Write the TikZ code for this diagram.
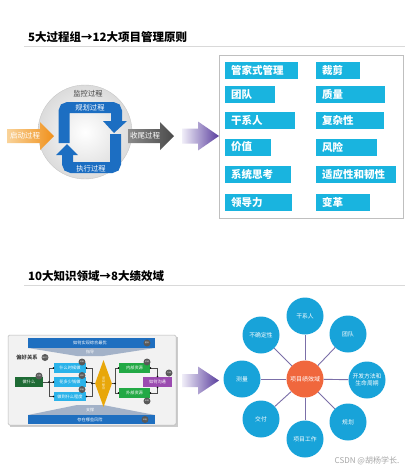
\documentclass[tikz,border=0pt]{standalone}
\usepackage{fontspec}
\setmainfont{Noto Sans CJK SC}
\usetikzlibrary{shapes.geometric,shadows}
\definecolor{cbox}{HTML}{19B4DF}
\definecolor{loopblue}{HTML}{1C6EC2}
\definecolor{orgL}{HTML}{F9D39A}
\definecolor{orgR}{HTML}{F0901A}
\definecolor{grayL}{HTML}{8A8A8A}
\definecolor{grayR}{HTML}{4A4A4A}
\definecolor{purL}{HTML}{F0EEF8}
\definecolor{purR}{HTML}{5A3E9E}
\definecolor{cblue}{HTML}{18A3D9}
\definecolor{corange}{HTML}{F0673D}
\definecolor{spoke}{HTML}{7B6FA8}
\definecolor{barblue}{HTML}{1F6FC0}
\definecolor{trap}{HTML}{A3B2C8}
\definecolor{dgreen}{HTML}{1E6B35}
\definecolor{lcyan}{HTML}{2AB3EA}
\definecolor{mgreen}{HTML}{22A945}
\definecolor{mpurple}{HTML}{9B4BB0}
\definecolor{gold}{HTML}{E8A70A}
\begin{document}
\begin{tikzpicture}[x=1pt,y=-1pt,
  title/.style={anchor=west,font=\fontsize{11.5}{12}\selectfont\bfseries,text=black,inner sep=0},
  rbox/.style={fill=cbox,text=white,anchor=west,minimum height=17,inner xsep=6,inner ysep=0,
    font=\fontsize{10.5}{11}\selectfont\bfseries,align=left,text width=#1},
  wtxt/.style={text=white,inner sep=0},
  outer/.style={circle,fill=cblue,minimum size=37,inner sep=0,text=white,font=\fontsize{5.8}{6.5}\selectfont,align=center},
  spk/.style={spoke,line width=0.9},
  sbox/.style={minimum width=#1,minimum height=9.5,inner sep=0,text=white,font=\fontsize{4.2}{5}\selectfont},
  kdot/.style={circle,fill=black!65,minimum size=7,inner sep=0,text=white,font=\fontsize{1.8}{2}\selectfont},
  jdot/.style={circle,fill=black,minimum size=1.6,inner sep=0},
  bl/.style={black!70,line width=0.5}
]
\useasboundingbox (0,0) rectangle (411,472);
\fill[white] (0,0) rectangle (411,472);

% ---------- Title 1 ----------
\node[title] (t1) at (28,37) {5大过程组→12大项目管理原则};
\draw[black!15,line width=0.8] (24,46) -- (405,46);

% ---------- process circle ----------
\shade[inner color=white,outer color=black!14,draw=black!22] (85,132) circle (47);
\node[inner sep=0,font=\fontsize{7.3}{8}\selectfont,text=black!75] (mon) at (88,94) {监控过程};
% blue loop
\draw[loopblue,line width=11,rounded corners=4] (64,143) -- (64,107.5) -- (116.5,107.5) -- (116.5,122);
\fill[loopblue] (103,121) -- (127,121) -- (114,133) -- cycle;
\draw[loopblue,line width=11,rounded corners=4] (115.5,134) -- (115.5,167.5) -- (67.5,167.5) -- (67.5,154);
\fill[loopblue] (56,155) -- (78,155) -- (67,144) -- cycle;
\node[wtxt,font=\fontsize{7.3}{8}\selectfont] (plan) at (90,108) {规划过程};
\node[wtxt,font=\fontsize{7.3}{8}\selectfont] (exec) at (91,169) {执行过程};
% orange arrow
\shade[left color=orgL,right color=orgR] (7,129) -- (40,129) -- (40,122) -- (54,136) -- (40,150) -- (40,143) -- (7,143) -- cycle;
\node[wtxt,font=\fontsize{7.5}{8}\selectfont] (start) at (25,136) {启动过程};
% gray arrow
\shade[left color=grayL,right color=grayR] (128,129) -- (160,129) -- (160,122) -- (174,136) -- (160,150) -- (160,143) -- (128,143) -- cycle;
\node[wtxt,font=\fontsize{7.5}{8}\selectfont] (close) at (145,136) {收尾过程};
% purple arrow 1
\shade[left color=purL,right color=purR] (182,128.5) -- (198,128.5) -- (198,121.5) -- (219,136) -- (198,150.5) -- (198,143.5) -- (182,143.5) -- cycle;

% ---------- principles box ----------
\draw[black!25,line width=0.8] (219,55) rectangle (403,218);
\node[rbox=61] (p1) at (225,70) {管家式管理};
\node[rbox=32] (p2) at (316,70) {裁剪};
\node[rbox=38] (p3) at (225,94.5) {团队};
\node[rbox=57] (p4) at (316,94.5) {质量};
\node[rbox=58] (p5) at (225,120.5) {干系人};
\node[rbox=56] (p6) at (316,120.5) {复杂性};
\node[rbox=34] (p7) at (225,147) {价值};
\node[rbox=49] (p8) at (316,147) {风险};
\node[rbox=54] (p9) at (225,174.5) {系统思考};
\node[rbox=68] (p10) at (316,174.5) {适应性和韧性};
\node[rbox=55] (p11) at (225,202.5) {领导力};
\node[rbox=42] (p12) at (316,202.5) {变革};

% ---------- Title 2 ----------
\node[title] (t2) at (28,276) {10大知识领域→8大绩效域};
\draw[black!15,line width=0.8] (24,285) -- (405,285);

% ---------- knowledge area panel ----------
\fill[black!20] (9.5,336.5) rectangle (177.5,426.5);
\draw[fill=black!5,draw=black!28,line width=0.5,rounded corners=1.5] (8,335) rectangle (176,425);
\fill[trap] (28,348) -- (155,348) -- (103,356) -- (77,356) -- cycle;
\fill[barblue] (28,338) rectangle (155,348);
\node[wtxt,font=\fontsize{4.2}{5}\selectfont] (integ) at (90,343) {如何实现综合最优};
\node[wtxt,font=\fontsize{4}{5}\selectfont] (guide) at (90,352) {指导};
\fill[trap] (77,405) -- (103,405) -- (155,415) -- (28,415) -- cycle;
\fill[barblue] (28,415) rectangle (155,424);
\node[wtxt,font=\fontsize{4.2}{5}\selectfont] (risk) at (90,419.5) {存在哪些风险};
\node[wtxt,font=\fontsize{4}{5}\selectfont] (support) at (90,410) {支撑};
\node[inner sep=0,font=\fontsize{5.3}{6}\selectfont\bfseries,text=black!75] (pref) at (27,357) {偏好关系};

\node[sbox=28,fill=dgreen,minimum height=10] (what) at (29,382) {做什么};
\node[sbox=32,fill=lcyan] (when) at (70,368) {什么时候做};
\node[sbox=32,fill=lcyan] (cost) at (70,382) {花多少钱做};
\node[sbox=32,fill=lcyan] (qual) at (70,396.5) {做到什么程度};
\node[diamond,fill=gold,minimum width=17,minimum height=47,inner sep=0,aspect=0.36] (dia) at (103.5,383.5) {};
\node[inner sep=0,text=white!85!gold,font=\fontsize{3}{3.3}\selectfont,align=center] (diat) at (103.5,383.5) {项\\目\\整\\合};
\node[sbox=31,fill=mgreen,minimum height=10] (inres) at (134.5,368) {内部资源};
\node[sbox=31,fill=mgreen,minimum height=10] (exres) at (134.5,393) {外部资源};
\node[sbox=29,fill=mpurple,minimum height=10] (comm) at (157.5,382) {如何沟通};

% brackets
\coordinate (lb1) at (49,368); \coordinate (lb2) at (49,396.5);
\draw[bl] (what.east) -- (49,382);
\draw[bl] (lb1) -- (lb2);
\draw[bl] (lb1) -- (when.west); \draw[bl] (49,382) -- (cost.west); \draw[bl] (lb2) -- (qual.west);
\coordinate (rb1) at (92,368); \coordinate (rb2) at (92,396.5);
\draw[bl] (when.east) -- (rb1) -- (rb2) -- (qual.east);
\draw[bl] (cost.east) -- (92,382); \draw[bl] (92,383.5) -- (dia.west);
\coordinate (gb1) at (115,368); \coordinate (gb2) at (115,393);
\draw[bl] (dia.east) -- (115,383.5);
\draw[bl] (gb1) -- (gb2);
\draw[bl] (gb1) -- (inres.west); \draw[bl] (gb2) -- (exres.west);
\coordinate (pc1) at (157.5,368); \coordinate (pc2) at (157.5,393);
\draw[bl] (inres.east) -- (pc1) -- (comm.north);
\draw[bl] (exres.east) -- (pc2) -- (comm.south);
\foreach \p in {(49,382),(53.5,368),(53.5,382),(53.5,396.5),(86.5,368),(86.5,382),(86.5,396.5),(92,383.5),(115,383.5),(118.5,368),(118.5,393),(150.5,368),(150.5,393),(157.5,376.5),(157.5,387.5)}
  \node[jdot] at \p {};

% knowledge area tags
\node[kdot] (k1) at (147,343) {整合};
\node[kdot] (k2) at (45,357.5) {相关方};
\node[kdot] (k3) at (39,376) {范围};
\node[kdot] (k4) at (82,362) {进度};
\node[kdot] (k5) at (82,375.5) {成本};
\node[kdot] (k6) at (82,389.5) {质量};
\node[kdot] (k7) at (147,362) {资源};
\node[kdot] (k8) at (147,401) {采购};
\node[kdot] (k9) at (169,373) {沟通};
\node[kdot] (k10) at (145,419.5) {风险};

% purple arrow 2
\shade[left color=purL,right color=purR] (182,374) -- (198,374) -- (198,366.5) -- (219,380.5) -- (198,394.5) -- (198,387) -- (182,387) -- cycle;

% ---------- performance domains ----------
\node[circle,fill=corange,minimum size=37,inner sep=0,text=white,font=\fontsize{6}{7}\selectfont] (c) at (305,379) {项目绩效域};
\node[outer] (d1) at (305,316) {干系人};
\node[outer] (d2) at (348,334) {团队};
\node[outer] (d3) at (367,380) {开发方法和\\生命周期};
\node[outer] (d4) at (348,422) {规划};
\node[outer] (d5) at (305,439) {项目工作};
\node[outer] (d6) at (261,419) {交付};
\node[outer] (d7) at (242,379) {测量};
\node[outer] (d8) at (261,335) {不确定性};
\foreach \d in {d1,d2,d3,d4,d5,d6,d7,d8}
  \draw[spk] (c) -- (\d);

\node[inner sep=0,text=black!35,font=\fontsize{8}{9}\selectfont] (wm) at (367,461) {CSDN @胡杨学长.};
\end{tikzpicture}
\end{document}
